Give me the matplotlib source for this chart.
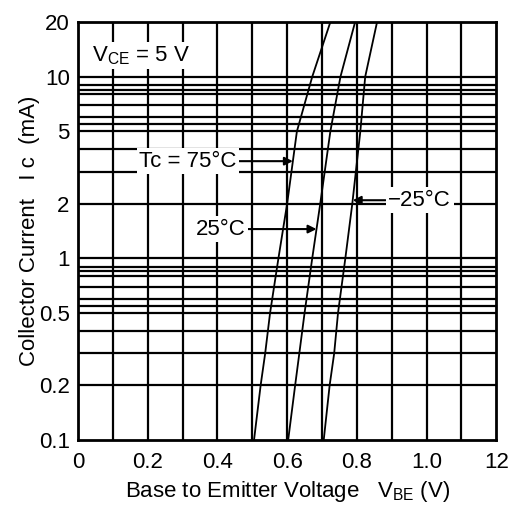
import numpy as np
import matplotlib
matplotlib.use("Agg")
import matplotlib.pyplot as plt

plt.rcParams['font.family'] = ['Liberation Sans', 'DejaVu Sans']
plt.rcParams['mathtext.default'] = 'regular'

# Collector current (mA) and base-emitter voltage (V) for each case temperature
ic = [0.1, 0.2, 0.3, 0.5, 1, 2, 5, 10, 20]
vbe_75 = [0.505, 0.524, 0.537, 0.551, 0.575, 0.600, 0.628, 0.672, 0.724]
vbe_25 = [0.603, 0.623, 0.635, 0.650, 0.672, 0.695, 0.724, 0.753, 0.795]
vbe_m25 = [0.705, 0.722, 0.735, 0.746, 0.767, 0.787, 0.810, 0.824, 0.858]

x_ticks = [0, 0.2, 0.4, 0.6, 0.8, 1.0, 1.2]
x_tick_labels = ["0", "0.2", "0.4", "0.6", "0.8", "1.0", "12"]
y_ticks = [0.1, 0.2, 0.5, 1, 2, 5, 10, 20]
y_tick_labels = ["0.1", "0.2", "0.5", "1", "2", "5", "10", "20"]
# horizontal grid lines (the original has a few doubled ones)
h_lines = [0.2, 0.3, 0.4, 0.5, 0.55, 0.6, 0.7, 0.8, 0.85, 0.9, 1,
           2, 3, 4, 5, 5.5, 6, 7, 8, 8.5, 9, 10]
v_lines = np.arange(1, 12) / 10

fig = plt.figure(figsize=(5.1, 5.14), dpi=100)
ax = fig.add_axes([0.153, 0.144, 0.820, 0.813])

for h in h_lines:
    ax.axhline(h, color="black", lw=1.6, zorder=1)
for v in v_lines:
    ax.axvline(v, color="black", lw=1.6, zorder=1)

for vbe in (vbe_75, vbe_25, vbe_m25):
    ax.plot(vbe, ic, color="black", lw=1.3, zorder=3)

ax.set_yscale("log")
ax.set_xlim(0, 1.2)
ax.set_ylim(0.1, 20)
ax.set_xticks(x_ticks)
ax.set_xticklabels(x_tick_labels)
ax.set_yticks(y_ticks)
ax.set_yticklabels(y_tick_labels)
ax.minorticks_off()
ax.tick_params(length=0, labelsize=16)
ax.tick_params(axis="x", pad=9)
ax.tick_params(axis="y", pad=6)
for s in ax.spines.values():
    s.set_linewidth(2)

ax.set_xlabel("Base to Emitter Voltage   V$_{BE}$ (V)", fontsize=16, labelpad=4)
ax.set_ylabel("Collector Current   I c  (mA)", fontsize=16, labelpad=-1)

box = dict(facecolor="white", edgecolor="none", pad=2)
ax.text(0.04, 13.1, "V$_{CE}$ = 5 V", fontsize=16, ha="left", va="center",
        bbox=box, zorder=4)


def curve_at(vbe, i):
    return np.interp(np.log10(i), np.log10(ic), vbe)


arrow = dict(arrowstyle="-|>", color="black", lw=1.5, mutation_scale=12,
             shrinkA=0, shrinkB=0)
ax.annotate("Tc = 75°C", xy=(curve_at(vbe_75, 3.43), 3.43), xytext=(0.455, 3.43),
            fontsize=16, ha="right", va="center", bbox=box, arrowprops=arrow,
            zorder=4)
ax.annotate("25°C", xy=(curve_at(vbe_25, 1.45), 1.45), xytext=(0.48, 1.45),
            fontsize=16, ha="right", va="center", bbox=box, arrowprops=arrow,
            zorder=4)
ax.annotate("\u221225°C", xy=(curve_at(vbe_m25, 2.09), 2.09), xytext=(0.89, 2.09),
            fontsize=16, ha="left", va="center", bbox=box, arrowprops=arrow,
            zorder=4)

fig.savefig("out.png", dpi=100)
